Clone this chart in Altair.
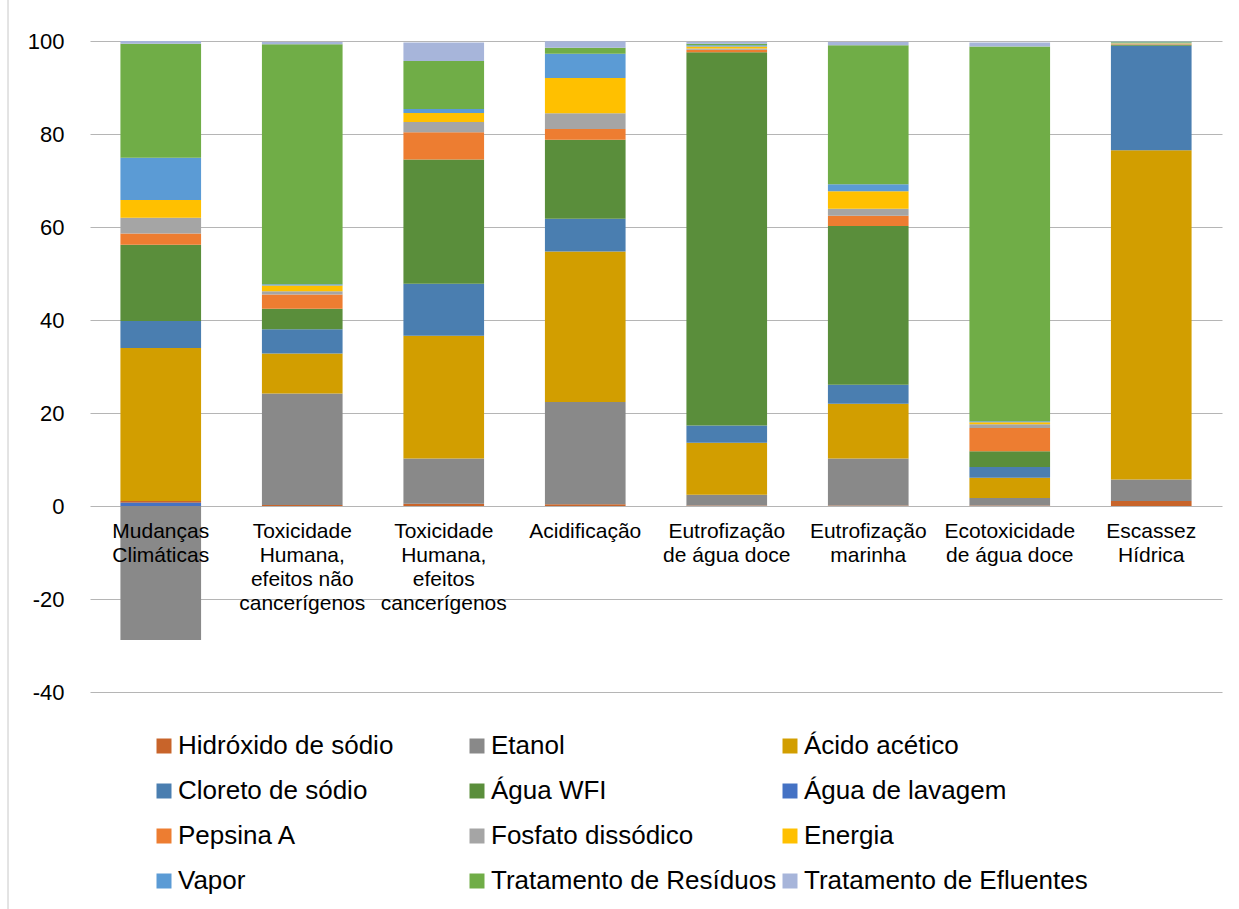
import altair as alt
import pandas as pd

categories = [
    "Mudanças|Climáticas",
    "Toxicidade|Humana,|efeitos não|cancerígenos",
    "Toxicidade|Humana,|efeitos|cancerígenos",
    "Acidificação",
    "Eutrofização|de água doce",
    "Eutrofização|marinha",
    "Ecotoxicidade|de água doce",
    "Escassez|Hídrica",
]

series = [
    "Hidróxido de sódio", "Etanol", "Ácido acético",
    "Cloreto de sódio", "Água WFI", "Água de lavagem",
    "Pepsina A", "Fosfato dissódico", "Energia",
    "Vapor", "Tratamento de Resíduos", "Tratamento de Efluentes",
]

colors = [
    "#C8642A", "#898989", "#D29E00",
    "#4A7EB0", "#5A8E3B", "#4472C4",
    "#ED7D31", "#A5A5A5", "#FFC000",
    "#5B9BD5", "#70AD47", "#A7B5DA",
]

# values per series, one per category (in category order)
hidroxido = [0.4, 0.2, 0.5, 0.35, 0.1, 0.1, 0.1, 1.1]
etanol = [-28.8, 24.0, 9.7, 22.0, 2.3, 10.1, 1.6, 4.6]
acido_acetico = [32.9, 8.6, 26.4, 32.4, 11.2, 11.8, 4.4, 70.8]
cloreto = [5.8, 5.2, 11.2, 7.0, 3.7, 4.1, 2.3, 22.5]
agua_wfi = [16.4, 4.4, 26.7, 17.0, 80.3, 34.1, 3.4, 0.2]
agua_lavagem = [0.7, 0.0, 0.0, 0.0, 0.0, 0.0, 0.0, 0.0]
pepsina = [2.4, 3.1, 5.9, 2.3, 0.5, 2.2, 5.0, 0.1]
fosfato = [3.4, 0.7, 2.2, 3.4, 0.3, 1.5, 0.8, 0.1]
energia = [3.8, 1.2, 1.9, 7.6, 0.4, 3.8, 0.4, 0.1]
vapor = [9.1, 0.3, 0.9, 5.2, 0.3, 1.5, 0.2, 0.2]
residuos = [24.5, 51.6, 10.3, 1.3, 0.3, 29.9, 80.6, 0.2]
efluentes = [0.6, 0.5, 4.0, 1.4, 0.4, 0.7, 0.9, 0.1]

series_values = [
    hidroxido, etanol, acido_acetico, cloreto, agua_wfi, agua_lavagem,
    pepsina, fosfato, energia, vapor, residuos, efluentes,
]

# stacking order from the zero line outward
stack_rank = {
    "Água de lavagem": 0, "Hidróxido de sódio": 1, "Etanol": 2, "Ácido acético": 3,
    "Cloreto de sódio": 4, "Água WFI": 5, "Pepsina A": 6, "Fosfato dissódico": 7,
    "Energia": 8, "Vapor": 9, "Tratamento de Resíduos": 10, "Tratamento de Efluentes": 11,
}

rows = []
for s, vals in zip(series, series_values):
    for c, v in zip(categories, vals):
        rows.append({"cat": c, "serie": s, "valor": v, "ordem": stack_rank[s]})
df = pd.DataFrame(rows)

FONT = "Liberation Sans"
W, H = 1132, 651

bars = alt.Chart(df).mark_bar().encode(
    x=alt.X(
        "cat:N", sort=categories,
        scale=alt.Scale(paddingInner=0.43, paddingOuter=0.215),
        axis=alt.Axis(
            title=None, labelExpr="split(datum.value, '|')", labelFontSize=21,
            labelLineHeight=24, labelAngle=0, ticks=False, domain=False,
            offset=-186, zindex=1, labelPadding=25, labelColor="#000000",
            labelFont=FONT, labelBaseline="middle",
        ),
    ),
    y=alt.Y(
        "valor:Q", stack="zero",
        scale=alt.Scale(domain=[-40, 100], nice=False),
        axis=alt.Axis(
            title=None, values=[-40, -20, 0, 20, 40, 60, 80, 100], grid=True,
            gridColor="#b5b5b5", gridWidth=1, domain=False, ticks=False,
            labelPadding=26, labelFontSize=22, labelFont=FONT, labelColor="#000000",
            labelExpr="'' + datum.value",
        ),
    ),
    color=alt.Color(
        "serie:N",
        scale=alt.Scale(domain=series, range=colors),
        legend=alt.Legend(
            title=None, orient="none", legendX=61, legendY=692, columns=3,
            direction="horizontal",
            gridAlign="all", columnPadding=-2, rowPadding=19,
            symbolType="square", symbolSize=225, symbolStrokeWidth=0,
            labelFontSize=26, labelFont=FONT, labelColor="#000000",
            labelOffset=1, labelLimit=400,
        ),
    ),
    order=alt.Order("ordem:Q", sort="ascending"),
)

border = alt.Chart(pd.DataFrame({"a": [0]})).mark_rule(color="#c8c8c8", strokeWidth=1).encode(
    x=alt.value(-82), y=alt.value(-41), y2=alt.value(868)
)

chart = alt.layer(bars, border).properties(
    width=W, height=H,
    padding={"left": 90, "top": 41, "right": 17, "bottom": 217},
    autosize="none",
).configure_view(stroke=None)

chart.save("out.html", embed_options={"renderer": "svg", "actions": False})
